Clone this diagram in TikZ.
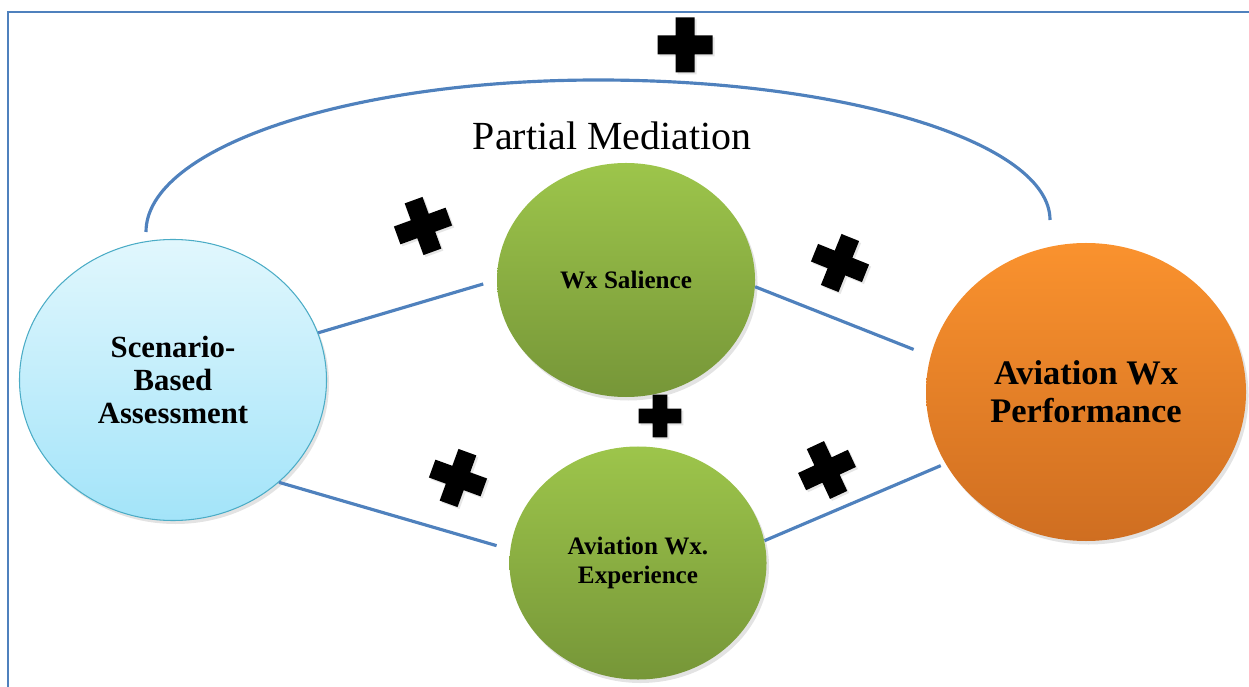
\documentclass[tikz,border=0pt]{standalone}
\usepackage{fontspec}
\setmainfont{Liberation Serif}
\usetikzlibrary{shapes.geometric,shadows}

\definecolor{linkblue}{HTML}{4F81BD}
\definecolor{skytop}{HTML}{E1F7FD}
\definecolor{skybottom}{HTML}{A3E4F9}
\definecolor{skyedge}{HTML}{4BACC6}
\definecolor{greentop}{HTML}{9DC54B}
\definecolor{greenbottom}{HTML}{769638}
\definecolor{orangetop}{HTML}{FA922E}
\definecolor{orangebottom}{HTML}{CF6E21}

\tikzset{
    bubble/.style={ellipse, inner sep=0pt, align=center,
        drop shadow={opacity=0.22, shadow xshift=0.5mm, shadow yshift=-0.7mm}},
    greenbubble/.style={bubble, top color=greentop, bottom color=greenbottom},
    link/.style={draw=linkblue, line width=1.8pt},
    pics/plussign/.style={code={
        \fill[black, drop shadow={opacity=0.2, shadow xshift=0.4mm, shadow yshift=-0.4mm}]
            (-9.5,-27.5) -- (9.5,-27.5) -- (9.5,-9.5) -- (27.5,-9.5) -- (27.5,9.5)
            -- (9.5,9.5) -- (9.5,27.5) -- (-9.5,27.5) -- (-9.5,9.5) -- (-27.5,9.5)
            -- (-27.5,-9.5) -- (-9.5,-9.5) -- cycle;
    }}
}

\begin{document}
\begin{tikzpicture}[x=0.2mm, y=-0.2mm]

    \useasboundingbox (0,0) rectangle (1249,687);

    \draw[linkblue, line width=1.1pt] (8,687) -- (8,12) -- (1249,12);



    \node[bubble, top color=skytop, bottom color=skybottom, draw=skyedge, line width=0.6pt,
        minimum width=6.14cm, minimum height=5.62cm,
        font=\bfseries\fontsize{17.5}{18.7}\selectfont] (sba) at (173,380) {Scenario-\\Based\\Assessment};

    \node[greenbubble, minimum width=5.16cm, minimum height=4.68cm,
        font=\bfseries\fontsize{14.3}{17}\selectfont] (sal) at (626,280) {Wx Salience};

    \node[greenbubble, minimum width=5.14cm, minimum height=4.66cm,
        font=\bfseries\fontsize{14.3}{17}\selectfont] (exp) at (638,563) {Aviation Wx.\\Experience};

    \node[bubble, top color=orangetop, bottom color=orangebottom,
        minimum width=6.4cm, minimum height=5.96cm,
        font=\bfseries\fontsize{19.6}{21.5}\selectfont] (perf) at (1086,392) {Aviation Wx\\Performance};

    \node[anchor=base, font=\fontsize{22.7}{27}\selectfont] (title) at (612,150) {Partial Mediation};



    \coordinate (arcL) at (146,232);

    \coordinate (apex) at (598,80);

    \coordinate (arcR) at (1050,220);

    \draw[link] (arcL) .. controls +(0,-84) and +(-250,0) .. (apex)
        .. controls +(250,0) and +(0,-77) .. (arcR);



    \draw[link, shorten >=2.8mm] (sba.18) -- (sal.west);

    \draw[link, shorten >=3.6mm] (sal.-3) -- (perf.167);

    \draw[link, shorten >=2.8mm] (sba.-44) -- (exp.174);

    \draw[link, shorten >=1mm] (exp.10) -- (perf.207);



    \pic at (685,45) {plussign};

    \pic[rotate=20] at (423,226) {plussign};

    \pic[rotate=-22] at (840,263) {plussign};

    \pic[scale=0.78] at (660,416) {plussign};

    \pic[rotate=-20] at (458,478) {plussign};

    \pic[rotate=25] at (827,470) {plussign};

\end{tikzpicture}
\end{document}
